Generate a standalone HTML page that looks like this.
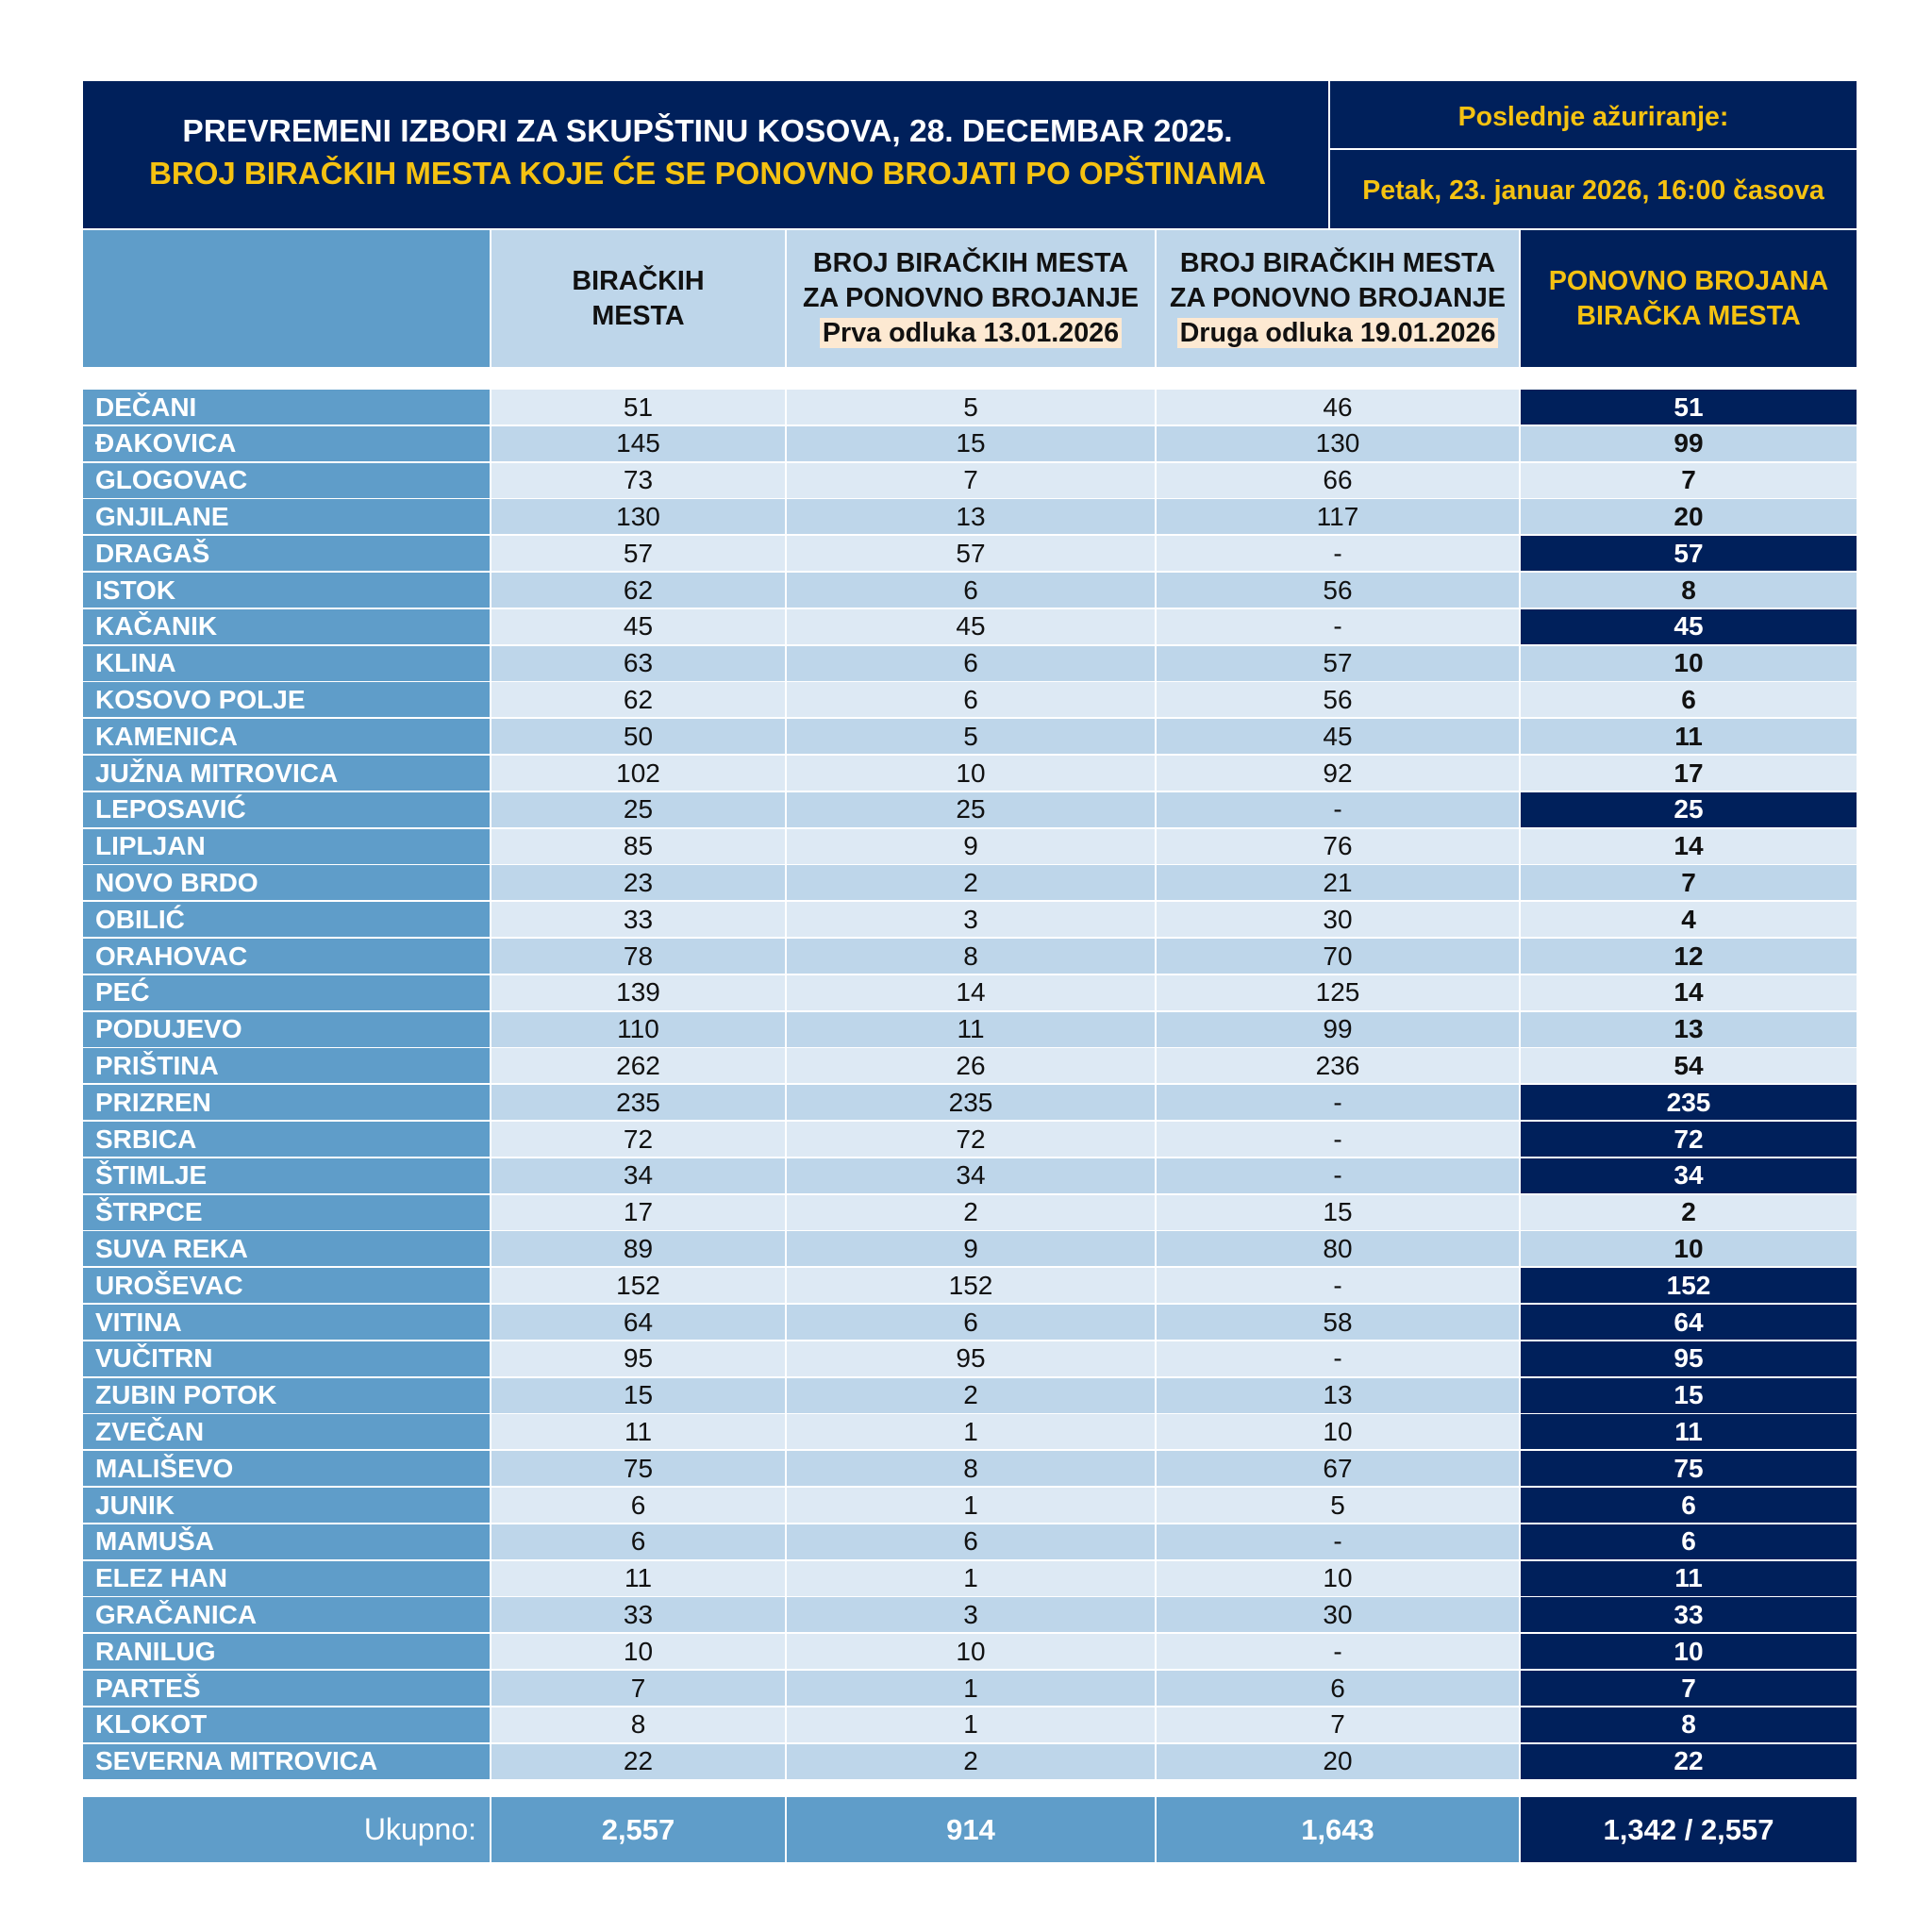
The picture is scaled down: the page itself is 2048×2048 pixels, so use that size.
<!DOCTYPE html>
<html><head><meta charset="utf-8"><style>
*{margin:0;padding:0;box-sizing:border-box}
body{width:2048px;height:2048px;background:#fff;position:relative;font-family:"Liberation Sans",Arial,sans-serif;overflow:hidden}
.abs{position:absolute}
.navy{background:#00205b}
.c{display:flex;align-items:center;justify-content:center;text-align:center}
.row{position:absolute;left:88px;height:37px;width:1880px}
.row div{position:absolute;top:0;height:37px;display:flex;align-items:center;justify-content:center;font-size:28px;color:#111}
.row .n{left:0;width:431px;background:#5f9dc9;color:#fff;font-weight:bold;justify-content:flex-start;padding-left:13px}
.row .a{left:433px;width:311px}
.row .b{left:746px;width:390px}
.row .d{left:1138px;width:384px}
.row .e{left:1524px;width:356px;font-weight:bold}
.L div.a,.L div.b,.L div.d,.L div.e{background:#dde9f4}
.M div.a,.M div.b,.M div.d,.M div.e{background:#bed6ea}
.row div.e.k{background:#00205b;color:#fff}
.hl{background:#fde9d2;padding:0 3px}
.h{font-weight:bold;font-size:28.7px;line-height:37px;color:#111;background:#bed6ea}
</style></head><body>
<div class="abs navy" style="left:88px;top:86px;width:1320px;height:156px"></div>
<div class="abs navy" style="left:1410px;top:86px;width:558px;height:71px"></div>
<div class="abs navy" style="left:1410px;top:159px;width:558px;height:83px"></div>
<div class="abs c" style="left:100px;top:120px;width:1300px;height:40px;color:#fff;font-weight:bold;font-size:33.5px">PREVREMENI IZBORI ZA SKUPŠTINU KOSOVA, 28. DECEMBAR 2025.</div>
<div class="abs c" style="left:100px;top:164px;width:1300px;height:40px;color:#f5c211;font-weight:bold;font-size:33px">BROJ BIRAČKIH MESTA KOJE ĆE SE PONOVNO BROJATI PO OPŠTINAMA</div>
<div class="abs c" style="left:1410px;top:104px;width:558px;height:40px;color:#f5c211;font-weight:bold;font-size:28.5px">Poslednje ažuriranje:</div>
<div class="abs c" style="left:1410px;top:182px;width:558px;height:40px;color:#f5c211;font-weight:bold;font-size:28.5px">Petak, 23. januar 2026, 16:00 časova</div>

<div class="abs" style="left:88px;top:244px;width:431px;height:145px;background:#5f9dc9"></div>
<div class="abs c h" style="left:521px;top:244px;width:311px;height:145px">BIRAČKIH<br>MESTA</div>
<div class="abs c h" style="left:834px;top:244px;width:390px;height:145px"><div>BROJ BIRAČKIH MESTA<br>ZA PONOVNO BROJANJE<br><span class="hl">Prva odluka 13.01.2026</span></div></div>
<div class="abs c h" style="left:1226px;top:244px;width:384px;height:145px"><div>BROJ BIRAČKIH MESTA<br>ZA PONOVNO BROJANJE<br><span class="hl">Druga odluka 19.01.2026</span></div></div>
<div class="abs c navy" style="left:1612px;top:244px;width:356px;height:145px;font-weight:bold;font-size:28.7px;line-height:37px;color:#f5c211">PONOVNO BROJANA<br>BIRAČKA MESTA</div>

<div class="abs" style="left:88px;top:1905px;width:431px;height:69px;background:#5f9dc9;color:#fff;font-size:32px;display:flex;align-items:center;justify-content:flex-end;padding-right:14px">Ukupno:</div>
<div class="abs c" style="left:521px;top:1905px;width:311px;height:69px;background:#5f9dc9;color:#fff;font-weight:bold;font-size:31px">2,557</div>
<div class="abs c" style="left:834px;top:1905px;width:390px;height:69px;background:#5f9dc9;color:#fff;font-weight:bold;font-size:31px">914</div>
<div class="abs c" style="left:1226px;top:1905px;width:384px;height:69px;background:#5f9dc9;color:#fff;font-weight:bold;font-size:31px">1,643</div>
<div class="abs c navy" style="left:1612px;top:1905px;width:356px;height:69px;color:#fff;font-weight:bold;font-size:31px">1,342 / 2,557</div>

<div class="row L" style="top:413.0px"><div class="n">DEČANI</div><div class="a">51</div><div class="b">5</div><div class="d">46</div><div class="e k">51</div></div>
<div class="row M" style="top:451.8px"><div class="n">ĐAKOVICA</div><div class="a">145</div><div class="b">15</div><div class="d">130</div><div class="e">99</div></div>
<div class="row L" style="top:490.6px"><div class="n">GLOGOVAC</div><div class="a">73</div><div class="b">7</div><div class="d">66</div><div class="e">7</div></div>
<div class="row M" style="top:529.4px"><div class="n">GNJILANE</div><div class="a">130</div><div class="b">13</div><div class="d">117</div><div class="e">20</div></div>
<div class="row L" style="top:568.2px"><div class="n">DRAGAŠ</div><div class="a">57</div><div class="b">57</div><div class="d">-</div><div class="e k">57</div></div>
<div class="row M" style="top:607.0px"><div class="n">ISTOK</div><div class="a">62</div><div class="b">6</div><div class="d">56</div><div class="e">8</div></div>
<div class="row L" style="top:645.8px"><div class="n">KAČANIK</div><div class="a">45</div><div class="b">45</div><div class="d">-</div><div class="e k">45</div></div>
<div class="row M" style="top:684.6px"><div class="n">KLINA</div><div class="a">63</div><div class="b">6</div><div class="d">57</div><div class="e">10</div></div>
<div class="row L" style="top:723.4px"><div class="n">KOSOVO POLJE</div><div class="a">62</div><div class="b">6</div><div class="d">56</div><div class="e">6</div></div>
<div class="row M" style="top:762.2px"><div class="n">KAMENICA</div><div class="a">50</div><div class="b">5</div><div class="d">45</div><div class="e">11</div></div>
<div class="row L" style="top:801.0px"><div class="n">JUŽNA MITROVICA</div><div class="a">102</div><div class="b">10</div><div class="d">92</div><div class="e">17</div></div>
<div class="row M" style="top:839.8px"><div class="n">LEPOSAVIĆ</div><div class="a">25</div><div class="b">25</div><div class="d">-</div><div class="e k">25</div></div>
<div class="row L" style="top:878.6px"><div class="n">LIPLJAN</div><div class="a">85</div><div class="b">9</div><div class="d">76</div><div class="e">14</div></div>
<div class="row M" style="top:917.4px"><div class="n">NOVO BRDO</div><div class="a">23</div><div class="b">2</div><div class="d">21</div><div class="e">7</div></div>
<div class="row L" style="top:956.2px"><div class="n">OBILIĆ</div><div class="a">33</div><div class="b">3</div><div class="d">30</div><div class="e">4</div></div>
<div class="row M" style="top:995.0px"><div class="n">ORAHOVAC</div><div class="a">78</div><div class="b">8</div><div class="d">70</div><div class="e">12</div></div>
<div class="row L" style="top:1033.8px"><div class="n">PEĆ</div><div class="a">139</div><div class="b">14</div><div class="d">125</div><div class="e">14</div></div>
<div class="row M" style="top:1072.6px"><div class="n">PODUJEVO</div><div class="a">110</div><div class="b">11</div><div class="d">99</div><div class="e">13</div></div>
<div class="row L" style="top:1111.4px"><div class="n">PRIŠTINA</div><div class="a">262</div><div class="b">26</div><div class="d">236</div><div class="e">54</div></div>
<div class="row M" style="top:1150.2px"><div class="n">PRIZREN</div><div class="a">235</div><div class="b">235</div><div class="d">-</div><div class="e k">235</div></div>
<div class="row L" style="top:1189.0px"><div class="n">SRBICA</div><div class="a">72</div><div class="b">72</div><div class="d">-</div><div class="e k">72</div></div>
<div class="row M" style="top:1227.8px"><div class="n">ŠTIMLJE</div><div class="a">34</div><div class="b">34</div><div class="d">-</div><div class="e k">34</div></div>
<div class="row L" style="top:1266.6px"><div class="n">ŠTRPCE</div><div class="a">17</div><div class="b">2</div><div class="d">15</div><div class="e">2</div></div>
<div class="row M" style="top:1305.4px"><div class="n">SUVA REKA</div><div class="a">89</div><div class="b">9</div><div class="d">80</div><div class="e">10</div></div>
<div class="row L" style="top:1344.2px"><div class="n">UROŠEVAC</div><div class="a">152</div><div class="b">152</div><div class="d">-</div><div class="e k">152</div></div>
<div class="row M" style="top:1383.0px"><div class="n">VITINA</div><div class="a">64</div><div class="b">6</div><div class="d">58</div><div class="e k">64</div></div>
<div class="row L" style="top:1421.8px"><div class="n">VUČITRN</div><div class="a">95</div><div class="b">95</div><div class="d">-</div><div class="e k">95</div></div>
<div class="row M" style="top:1460.6px"><div class="n">ZUBIN POTOK</div><div class="a">15</div><div class="b">2</div><div class="d">13</div><div class="e k">15</div></div>
<div class="row L" style="top:1499.4px"><div class="n">ZVEČAN</div><div class="a">11</div><div class="b">1</div><div class="d">10</div><div class="e k">11</div></div>
<div class="row M" style="top:1538.2px"><div class="n">MALIŠEVO</div><div class="a">75</div><div class="b">8</div><div class="d">67</div><div class="e k">75</div></div>
<div class="row L" style="top:1577.0px"><div class="n">JUNIK</div><div class="a">6</div><div class="b">1</div><div class="d">5</div><div class="e k">6</div></div>
<div class="row M" style="top:1615.8px"><div class="n">MAMUŠA</div><div class="a">6</div><div class="b">6</div><div class="d">-</div><div class="e k">6</div></div>
<div class="row L" style="top:1654.6px"><div class="n">ELEZ HAN</div><div class="a">11</div><div class="b">1</div><div class="d">10</div><div class="e k">11</div></div>
<div class="row M" style="top:1693.4px"><div class="n">GRAČANICA</div><div class="a">33</div><div class="b">3</div><div class="d">30</div><div class="e k">33</div></div>
<div class="row L" style="top:1732.2px"><div class="n">RANILUG</div><div class="a">10</div><div class="b">10</div><div class="d">-</div><div class="e k">10</div></div>
<div class="row M" style="top:1771.0px"><div class="n">PARTEŠ</div><div class="a">7</div><div class="b">1</div><div class="d">6</div><div class="e k">7</div></div>
<div class="row L" style="top:1809.8px"><div class="n">KLOKOT</div><div class="a">8</div><div class="b">1</div><div class="d">7</div><div class="e k">8</div></div>
<div class="row M" style="top:1848.6px"><div class="n">SEVERNA MITROVICA</div><div class="a">22</div><div class="b">2</div><div class="d">20</div><div class="e k">22</div></div>
</body></html>
